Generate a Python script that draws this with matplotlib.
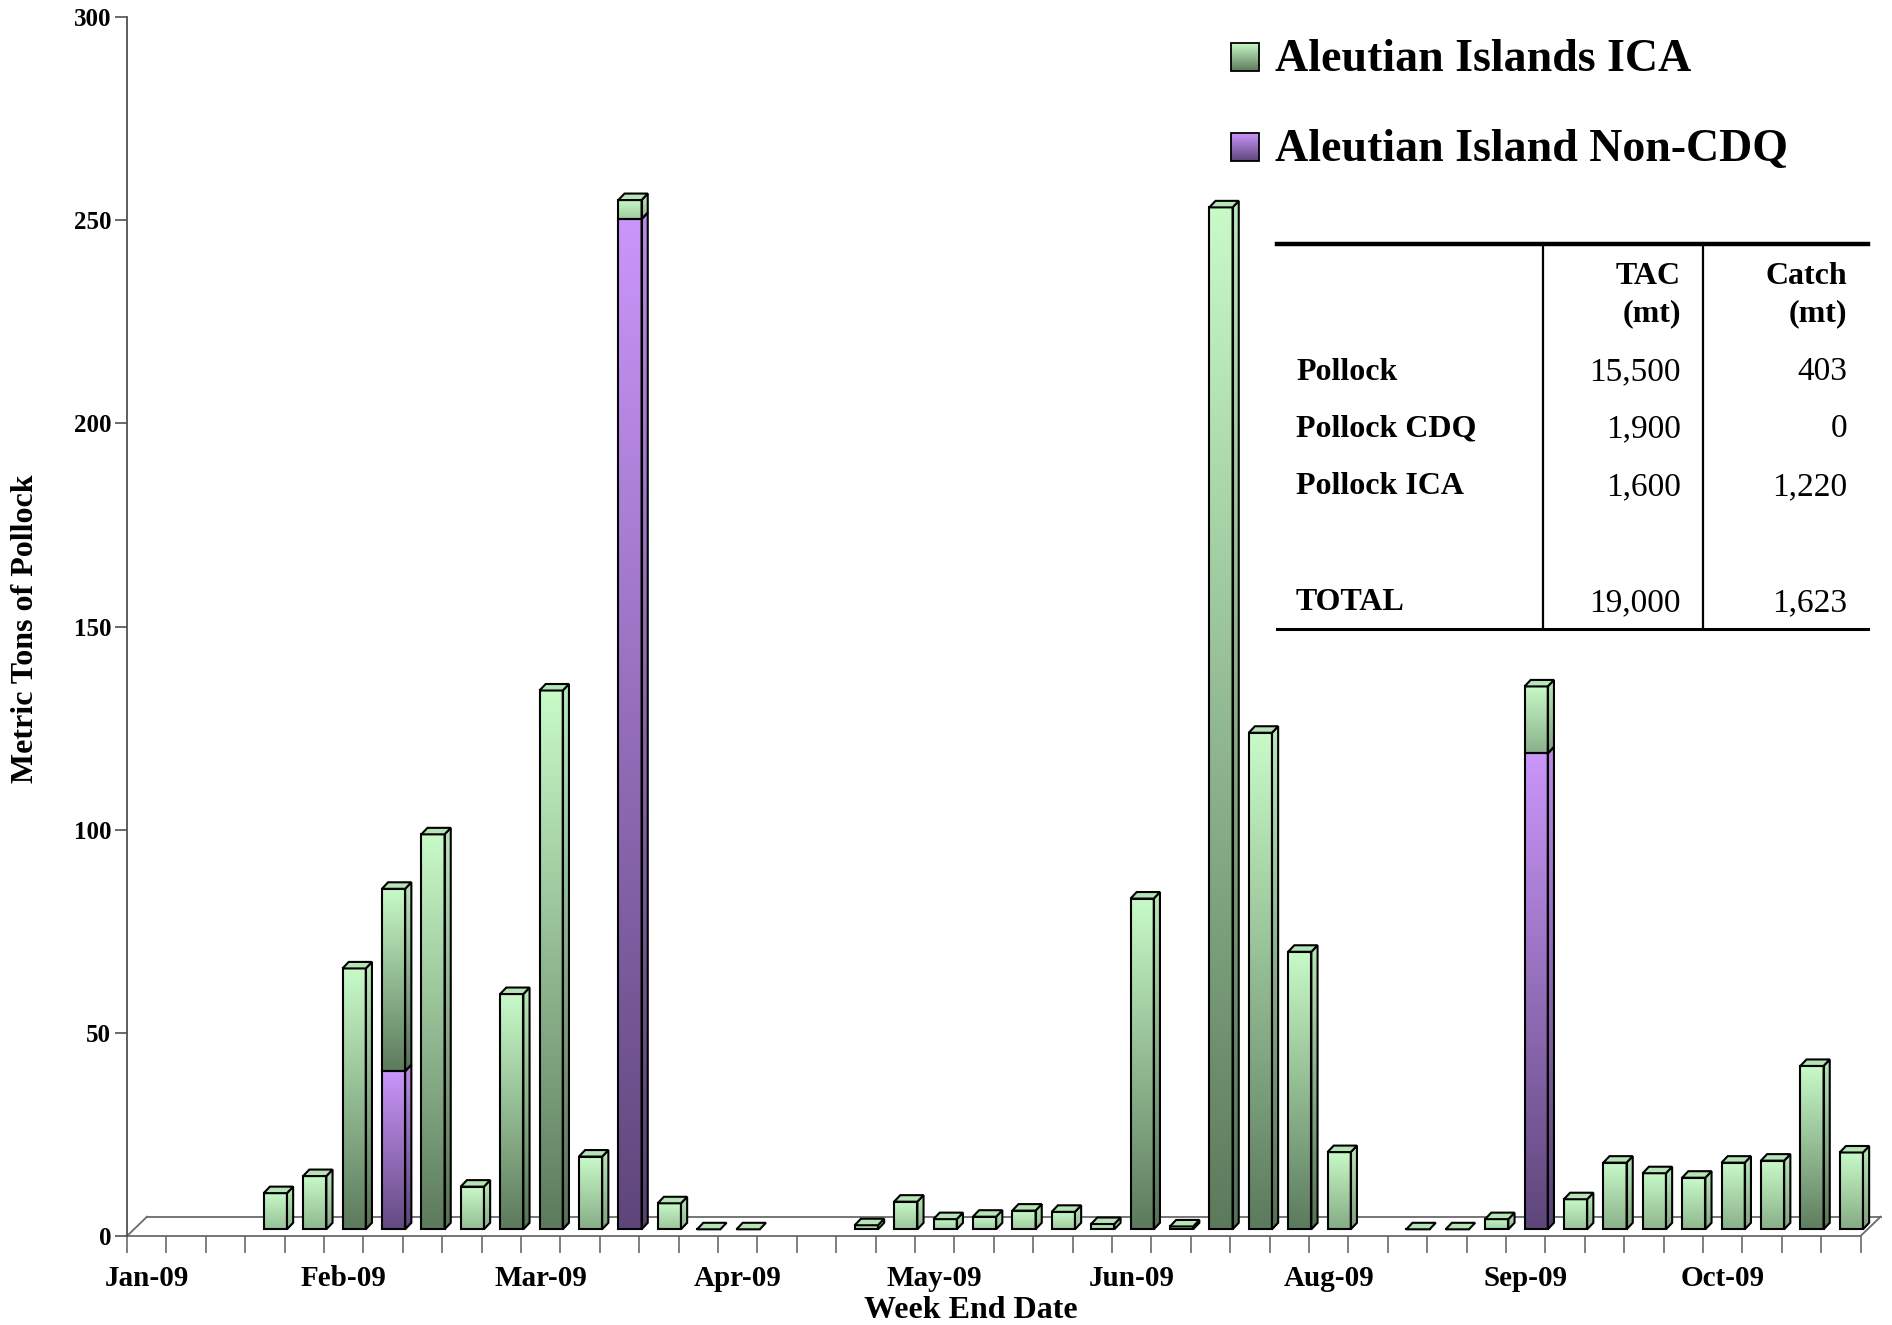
import numpy as np
import matplotlib.pyplot as plt
from matplotlib.patches import Polygon

plt.rcParams['font.family'] = ['Liberation Serif', 'DejaVu Serif']
plt.rcParams['font.weight'] = 'bold'

# weekly slots (44 weeks), nan = no bar that week
month_labels = ['Jan-09', 'Feb-09', 'Mar-09', 'Apr-09', 'May-09',
                'Jun-09', 'Aug-09', 'Sep-09', 'Oct-09']
month_slots = [0, 5, 10, 15, 20, 25, 30, 35, 40]

nan = np.nan
ica_catch = [nan, nan, nan, 8.9, 13.1, 64.2, 44.9, 97.2, 10.5, 57.9,
             132.6, 17.9, 4.7, 6.4, 0, 0, nan, nan, 1.0, 6.8,
             2.5, 3.1, 4.6, 4.3, 1.3, 81.4, 0.7, 251.5, 122.2, 68.3,
             19.0, nan, 0, 0, 2.5, 16.5, 7.4, 16.4, 13.8, 12.7,
             16.4, 16.9, 40.2, 18.9]
non_cdq_catch = [0] * 44
non_cdq_catch[6] = 38.9
non_cdq_catch[12] = 248.6
non_cdq_catch[35] = 117.1

legend_labels = ['Aleutian Islands ICA', 'Aleutian Island Non-CDQ']

table_rows = ['Pollock', 'Pollock CDQ', 'Pollock ICA', 'TOTAL']
table_tac = ['15,500', '1,900', '1,600', '19,000']
table_catch = ['403', '0', '1,220', '1,623']

# colours (rgb 0-1)
GREEN_TOP = np.array([200, 250, 200]) / 255
GREEN_BOT = np.array([92, 122, 92]) / 255
PURP_TOP = np.array([202, 150, 250]) / 255
PURP_BOT = np.array([94, 70, 122]) / 255
GREEN_CAP = '#b6e4b6'

# ---- 3D-ish geometry (data units) ----
N = len(ica_catch)
XMAX = 44.6
FACE_L, FACE_R = 0.47, 1.06   # front face within slot
DX, DY = 0.157, 1.6           # bar depth
BASE = 1.65                   # bars sit a bit behind the floor front
FLOOR_DX, FLOOR_DY = 0.508, 4.75

fig = plt.figure(figsize=(18.92, 13.25), dpi=100)
ax = fig.add_axes([127 / 1892, 89 / 1325, XMAX * 39.4 / 1892, 1219 / 1325])
ax.set_xlim(0, XMAX)
ax.set_ylim(0, 300)


def grad_img(top, bot):
    g = np.linspace(0, 1, 128)[:, None, None]
    return (1 - g) * top[None, None, :] + g * bot[None, None, :]


def face(poly_xy, top, bot, z):
    poly = Polygon(poly_xy, closed=True, facecolor='none', edgecolor='black',
                   lw=1.5, zorder=z + 0.5, joinstyle='miter')
    ax.add_patch(poly)
    xs = [p[0] for p in poly_xy]
    ys = [p[1] for p in poly_xy]
    im = ax.imshow(grad_img(top, bot), extent=(min(xs), max(xs), min(ys), max(ys)),
                   origin='upper', aspect='auto', interpolation='bilinear', zorder=z)
    im.set_clip_path(poly)


def segment(x0, y0, h, top, bot, z):
    # darkness of the bottom depends on height of the segment
    t = min(1.0, 0.3 + h / 60.0)
    b = top + t * (bot - top)
    x1 = x0 + (FACE_R - FACE_L)
    face([(x0, y0), (x1, y0), (x1, y0 + h), (x0, y0 + h)], top, b, z)
    face([(x1, y0), (x1 + DX, y0 + DY), (x1 + DX, y0 + h + DY), (x1, y0 + h)],
         top * 0.93, b * 0.93, z)


for i in range(N):
    g = ica_catch[i]
    p = non_cdq_catch[i]
    if np.isnan(g) and p == 0:
        continue
    g = 0 if np.isnan(g) else g
    x0 = i + FACE_L
    x1 = i + FACE_R
    z = 3 + i * 0.01
    y = BASE
    if p > 0:
        segment(x0, y, p, PURP_TOP, PURP_BOT, z)
        y += p
    if g > 0:
        segment(x0, y, g, GREEN_TOP, GREEN_BOT, z)
        y += g
    if g == 0 and p == 0:
        ax.plot([x0, x1], [y, y], color='black', lw=1.5, zorder=z + 0.5)
    ax.add_patch(Polygon([(x0, y), (x0 + DX, y + DY), (x1 + DX, y + DY), (x1, y)],
                         closed=True, facecolor=GREEN_CAP, edgecolor='black',
                         lw=1.5, zorder=z + 0.6, joinstyle='miter'))

# floor
fl = '#6a6a6a'
ax.plot([0, N], [0, 0], color=fl, lw=1.3, zorder=1, clip_on=False)
ax.plot([FLOOR_DX, N + FLOOR_DX], [FLOOR_DY, FLOOR_DY], color=fl, lw=1.3, zorder=1)
ax.plot([0, FLOOR_DX], [0, FLOOR_DY], color=fl, lw=1.3, zorder=1, clip_on=False)
ax.plot([N, N + FLOOR_DX], [0, FLOOR_DY], color=fl, lw=1.3, zorder=1, clip_on=False)

for s in ['top', 'right', 'bottom']:
    ax.spines[s].set_visible(False)
ax.spines['left'].set_color('#505050')
ax.spines['left'].set_linewidth(1.3)
ax.spines['left'].set_bounds(0, 300)

ax.set_yticks(np.arange(0, 301, 50))
ax.tick_params(axis='y', direction='out', length=8.5, width=1.2, color='#505050',
               pad=3, labelsize=18)
ax.set_xticks(np.arange(0, N + 1), minor=True)
ax.set_xticks([s + 0.5 for s in month_slots])
ax.set_xticklabels(month_labels)
ax.tick_params(axis='x', which='minor', direction='out', length=12.5, width=1.2,
               color='#6a6a6a')
ax.tick_params(axis='x', which='major', length=0, pad=21, labelsize=21)
for lab in ax.get_xticklabels() + ax.get_yticklabels():
    lab.set_fontweight('bold')

fig.text(971 / 1892, 1 - 1310 / 1325, 'Week End Date', ha='center', va='center',
         fontsize=23, fontweight='bold')
fig.text(26 / 1892, 1 - 629 / 1325, 'Metric Tons of Pollock', ha='center',
         va='center', rotation=90, fontsize=23, fontweight='bold')

# ---- legend (pixel-based overlay) ----
ov = fig.add_axes([0, 0, 1, 1], zorder=10)
ov.set_xlim(0, 1892)
ov.set_ylim(1325, 0)
ov.axis('off')
ov.patch.set_alpha(0)

leg_cols = [(GREEN_TOP, GREEN_BOT), (PURP_TOP, PURP_BOT)]
for k, (lab, (ct, cb)) in enumerate(zip(legend_labels, leg_cols)):
    yc = 57 + k * 90
    sq = Polygon([(1231, yc - 14), (1259, yc - 14), (1259, yc + 14), (1231, yc + 14)],
                 closed=True, facecolor='none', edgecolor='black', lw=1.3, zorder=3)
    ov.add_patch(sq)
    im = ov.imshow(grad_img(ct, cb), extent=(1231, 1259, yc + 14, yc - 14),
                   origin='upper', aspect='auto', zorder=2)
    im.set_clip_path(sq)
    ov.text(1275, yc + 3, lab, ha='left', va='center', fontsize=33, fontweight='bold')
ov.set_xlim(0, 1892)
ov.set_ylim(1325, 0)

# ---- summary table ----
tx0, tx1 = 1277, 1868
ty0, ty1 = 244, 629
ov.plot([tx0, tx1], [ty0, ty0], color='black', lw=3.2)
ov.plot([tx0, tx1], [ty1, ty1], color='black', lw=2.2)
for xv in [1543, 1703]:
    ov.plot([xv, xv], [ty0, ty1], color='black', lw=1.6)

col_r = [1681, 1847]
hdr = dict(va='center', fontsize=23, fontweight='bold')
ov.text(col_r[0], 276, 'TAC', ha='right', **hdr)
ov.text(col_r[0], 314, '(mt)', ha='right', **hdr)
ov.text(col_r[1], 276, 'Catch', ha='right', **hdr)
ov.text(col_r[1], 314, '(mt)', ha='right', **hdr)

row_y = [372, 429, 487, 603]
for name, tac, cat, yr in zip(table_rows, table_tac, table_catch, row_y):
    ov.text(1296, yr, name, ha='left', va='center', fontsize=23, fontweight='bold')
    ov.text(col_r[0], yr, tac, ha='right', va='center', fontsize=24, fontweight='normal')
    ov.text(col_r[1], yr, cat, ha='right', va='center', fontsize=24, fontweight='normal')

fig.savefig('out.png', dpi=100)
